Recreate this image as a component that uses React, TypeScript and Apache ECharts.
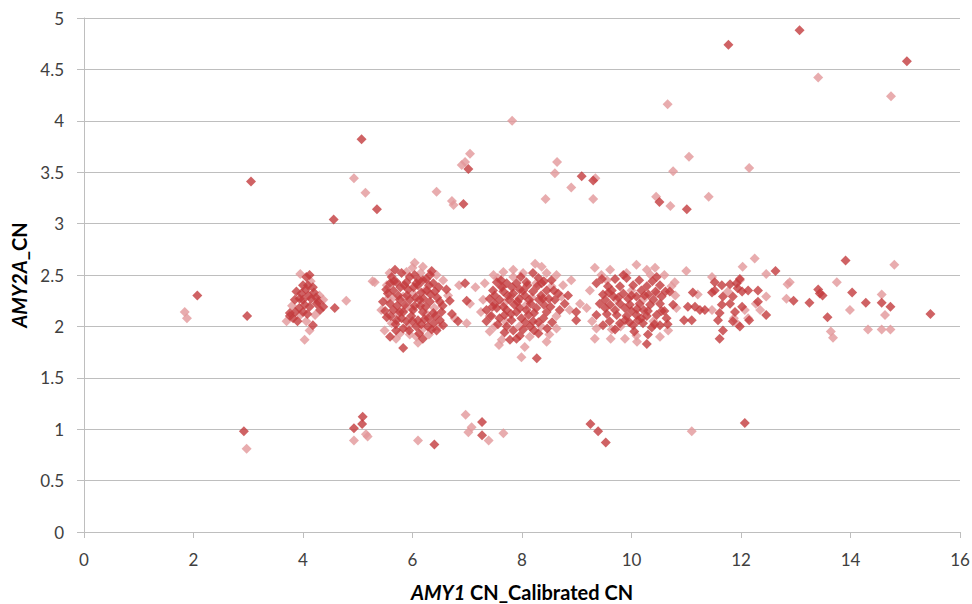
import React, { useEffect, useRef } from "react";
import * as echarts from "echarts";

// AMY1 calibrated copy number (x) against AMY2A copy number (y), two sample groups
const darkPoints: [number, number][] = [
  // high outliers
  [11.77, 4.74], [13.07, 4.88], [15.03, 4.58], [10.51, 3.21], [11.01, 3.14],
  [5.07, 3.82], [5.35, 3.14], [4.56, 3.04], [6.93, 3.19], [7.02, 3.53],
  [9.09, 3.46], [9.30, 3.42], [3.05, 3.41],
  // low-end values
  [2.07, 2.30], [2.98, 2.10], [2.92, 0.98],
  [4.93, 1.01], [5.08, 1.05], [5.09, 1.12], [6.40, 0.85], [7.27, 1.07],
  [7.27, 0.94], [9.25, 1.05], [9.39, 0.98], [9.53, 0.87], [12.07, 1.06],
  // group near 4
  [4.12, 2.50], [4.06, 2.48], [4.09, 2.40], [3.88, 2.34], [3.97, 2.32],
  [3.85, 2.26], [4.00, 2.26], [4.15, 2.27], [4.25, 2.22], [4.31, 2.16],
  [4.12, 2.19], [3.76, 2.13], [3.82, 2.08], [3.76, 2.10], [4.58, 2.18],
  [4.18, 2.01], [4.37, 2.19], [4.03, 2.21], [3.93, 2.18], [4.20, 2.33],
  [3.90, 2.05], [4.08, 2.12], [4.00, 2.40], [4.18, 2.38], [3.94, 2.27],
  [4.10, 2.30], [4.24, 2.28], [3.86, 2.14], [4.00, 2.14], [4.28, 2.24],
  [4.05, 2.36],
  // group near 6
  [5.68, 2.55], [5.80, 2.52], [6.35, 2.54], [6.32, 2.50], [6.04, 2.50],
  [5.59, 2.42], [5.65, 2.35], [5.55, 2.32], [5.71, 2.43], [5.89, 2.43],
  [6.07, 2.42], [6.19, 2.45], [6.38, 2.42], [6.41, 2.34], [6.26, 2.35],
  [6.62, 2.36], [6.68, 2.25], [6.99, 2.25], [6.96, 2.42], [5.46, 2.24],
  [5.59, 2.22], [5.77, 2.26], [5.95, 2.26], [6.13, 2.26], [6.32, 2.24],
  [5.65, 2.16], [5.83, 2.14], [6.01, 2.16], [6.19, 2.14], [6.38, 2.13],
  [6.53, 2.14], [5.53, 2.09], [5.71, 2.06], [5.89, 2.05], [6.10, 2.06],
  [6.29, 2.08], [6.50, 2.06], [5.83, 1.98], [6.07, 2.00], [6.38, 2.03],
  [6.44, 1.96], [6.56, 2.01], [5.59, 1.90], [6.19, 1.88], [5.83, 1.79],
  [6.83, 2.05], [5.62, 2.48], [5.92, 2.36], [6.16, 2.33], [5.74, 2.30],
  [6.04, 2.20], [6.24, 2.19], [5.86, 2.21], [6.45, 2.28], [5.50, 2.15],
  [6.10, 2.40], [5.98, 2.10], [6.28, 2.00], [5.70, 1.96], [6.12, 1.93],
  [6.55, 2.20], [6.72, 2.12], [5.78, 2.38], [6.20, 2.27],
  [5.66, 2.44], [5.95, 2.48], [6.25, 2.46], [5.72, 2.20], [5.90, 2.30],
  [6.06, 2.28], [6.33, 2.31], [5.60, 2.10], [5.80, 2.08], [6.00, 2.05],
  [6.22, 2.07], [6.42, 2.10], [5.69, 2.02], [5.94, 1.96], [6.16, 2.02],
  [6.35, 1.97], [5.85, 2.40], [6.12, 2.45], [6.48, 2.38], [5.52, 2.36],
  [6.02, 2.38], [6.30, 2.40], [5.77, 2.14], [6.14, 2.20], [6.50, 2.24],
  // group near 8
  [8.20, 2.52], [7.54, 2.43], [7.72, 2.42], [7.90, 2.42], [8.08, 2.43],
  [8.36, 2.42], [8.54, 2.45], [7.47, 2.35], [7.66, 2.34], [7.84, 2.32],
  [8.02, 2.35], [8.20, 2.34], [8.45, 2.35], [8.66, 2.32], [7.41, 2.27],
  [7.59, 2.26], [7.77, 2.26], [7.95, 2.27], [8.13, 2.26], [8.31, 2.26],
  [8.49, 2.27], [8.78, 2.22], [7.35, 2.16], [7.54, 2.18], [7.72, 2.16],
  [7.90, 2.14], [8.08, 2.16], [8.26, 2.18], [8.45, 2.14], [8.69, 2.16],
  [7.35, 2.05], [7.59, 2.08], [7.81, 2.06], [7.99, 2.08], [8.20, 2.05],
  [8.39, 2.08], [8.99, 2.14], [8.99, 2.06], [7.84, 1.96], [8.02, 1.97],
  [8.30, 1.93], [7.78, 1.87], [7.90, 1.88], [8.27, 1.69], [7.63, 2.38],
  [7.86, 2.21], [8.05, 2.30], [8.28, 2.39], [8.40, 2.21], [7.68, 2.11],
  [8.12, 2.11], [8.55, 2.04], [7.50, 2.22], [7.96, 2.36], [8.60, 2.26],
  [8.15, 2.00], [7.72, 2.00], [8.35, 2.30], [7.44, 2.10], [8.84, 2.30],
  [7.62, 2.45], [7.98, 2.48], [8.30, 2.47], [7.50, 2.30], [7.74, 2.30],
  [7.92, 2.24], [8.16, 2.22], [8.38, 2.27], [8.58, 2.35], [7.46, 2.19],
  [7.66, 2.19], [7.96, 2.18], [8.22, 2.13], [8.52, 2.19], [7.56, 2.02],
  [7.80, 2.12], [8.06, 2.04], [8.30, 2.04], [7.68, 1.94], [7.96, 1.91],
  [8.22, 1.96], [8.46, 1.98], [8.10, 2.40], [7.82, 2.38], [8.40, 2.44],
  // group near 10
  [9.85, 2.50], [9.91, 2.47], [10.46, 2.48], [9.36, 2.42], [9.57, 2.39],
  [9.79, 2.39], [10.03, 2.40], [10.28, 2.39], [10.52, 2.40], [9.48, 2.31],
  [9.67, 2.29], [9.85, 2.32], [10.09, 2.29], [10.31, 2.31], [10.55, 2.29],
  [10.70, 2.34], [9.42, 2.22], [9.61, 2.21], [9.79, 2.22], [9.97, 2.21],
  [10.15, 2.22], [10.34, 2.21], [10.52, 2.22], [10.76, 2.21], [9.36, 2.11],
  [9.55, 2.12], [9.73, 2.11], [9.91, 2.10], [10.09, 2.11], [10.28, 2.10],
  [10.46, 2.11], [10.64, 2.08], [9.48, 2.01], [9.79, 2.03], [10.03, 2.01],
  [10.21, 2.03], [10.37, 1.99], [10.52, 2.01], [10.28, 1.83], [9.64, 2.35],
  [9.94, 2.27], [10.18, 2.35], [10.40, 2.26], [9.70, 2.16], [10.00, 2.15],
  [10.22, 2.16], [9.52, 2.26], [10.60, 2.15], [9.88, 2.06], [10.12, 2.06],
  [9.46, 2.46], [9.70, 2.46], [10.14, 2.45], [10.38, 2.44], [9.58, 2.33],
  [9.76, 2.28], [10.00, 2.30], [10.24, 2.30], [10.44, 2.34], [10.62, 2.34],
  [9.52, 2.18], [9.88, 2.18], [10.10, 2.17], [10.30, 2.15], [10.55, 2.15],
  [9.60, 2.05], [9.96, 2.04], [10.18, 2.08], [10.42, 2.02], [10.66, 2.02],
  [9.70, 1.97], [10.05, 1.95], [10.30, 1.92],
  // group near 12
  [11.52, 2.43], [11.65, 2.40], [11.80, 2.41], [11.92, 2.42], [11.98, 2.46],
  [11.94, 2.37], [11.52, 2.35], [11.47, 2.33], [11.67, 2.29], [11.85, 2.29],
  [12.02, 2.34], [12.13, 2.35], [12.31, 2.35], [12.31, 2.24], [12.02, 2.19],
  [11.80, 2.22], [11.65, 2.21], [11.61, 2.13], [11.58, 2.06], [11.89, 2.14],
  [11.85, 2.05], [11.98, 2.00], [12.15, 2.06], [12.46, 2.11], [11.12, 2.33],
  [11.03, 2.19], [11.16, 2.19], [11.25, 2.16], [11.34, 2.16], [10.96, 2.06],
  [11.10, 2.06], [11.67, 1.96], [11.61, 1.88], [12.63, 2.54],
  // far right
  [13.91, 2.64], [13.41, 2.36], [13.44, 2.32], [13.49, 2.30], [14.03, 2.33],
  [12.96, 2.25], [13.25, 2.23], [14.57, 2.23], [14.28, 2.23], [14.73, 2.19],
  [13.58, 2.09], [15.46, 2.12],
];

const lightPoints: [number, number][] = [
  // high outliers
  [13.41, 4.42], [14.74, 4.24], [10.66, 4.16], [11.05, 3.65], [10.76, 3.51],
  [12.15, 3.54], [10.45, 3.26], [10.71, 3.17], [11.41, 3.26], [7.82, 4.00],
  [4.93, 3.44], [5.14, 3.30], [6.44, 3.31], [6.72, 3.22], [6.75, 3.18],
  [7.05, 3.68], [6.96, 3.60], [6.90, 3.57], [8.64, 3.60], [8.60, 3.49],
  [9.34, 3.44], [8.90, 3.35], [8.43, 3.24], [9.30, 3.24],
  // low-end values
  [1.84, 2.14], [1.88, 2.08], [2.97, 0.81], [4.93, 0.89], [5.18, 0.93],
  [5.15, 0.95], [6.10, 0.89], [6.97, 1.14], [7.08, 1.02], [7.02, 0.97],
  [7.39, 0.89], [7.66, 0.96], [11.10, 0.98],
  // group near 4
  [3.95, 2.51], [4.79, 2.25], [3.70, 2.05], [4.06, 2.05], [4.12, 1.96],
  [4.03, 1.87], [4.37, 2.26], [3.95, 2.11], [4.22, 2.11], [4.14, 2.44],
  [3.80, 2.20], [4.30, 2.30],
  // group near 6
  [5.31, 2.43], [6.04, 2.62], [5.89, 2.53], [6.19, 2.58], [6.44, 2.50],
  [5.49, 1.96], [5.92, 2.00], [5.95, 1.92], [6.07, 1.90], [5.77, 1.93],
  [5.83, 2.29], [6.01, 2.32], [6.23, 2.35], [6.77, 2.08], [6.99, 2.03],
  [5.43, 2.16], [5.53, 2.40], [5.27, 2.44], [6.56, 2.45], [5.62, 2.03],
  [6.30, 1.92], [6.10, 1.84], [5.74, 2.12], [6.65, 2.30], [5.97, 2.18],
  [6.40, 2.18], [5.55, 2.27], [6.85, 2.40], [6.15, 2.52],
  [5.65, 2.28], [6.26, 2.12], [5.88, 2.18], [6.48, 2.00], [5.70, 1.88],
  [6.18, 1.97], [5.58, 2.52], [6.00, 2.57],
  // group near 8
  [8.24, 2.61], [7.32, 2.42], [7.66, 2.53], [7.84, 2.55], [8.02, 2.52],
  [8.45, 2.52], [8.63, 2.50], [7.99, 1.70], [7.63, 1.87], [7.41, 1.95],
  [8.14, 1.90], [8.45, 1.85], [8.63, 1.98], [7.29, 2.26], [7.68, 2.23],
  [8.08, 2.21], [7.84, 2.48], [7.63, 2.39], [8.26, 2.42], [8.54, 2.39],
  [8.72, 2.29], [8.87, 2.16], [8.63, 2.10], [7.41, 2.10], [7.50, 2.00],
  [7.95, 2.00], [8.35, 2.00], [7.80, 2.30], [8.18, 2.28], [7.56, 2.47],
  [8.90, 2.45], [9.06, 2.22], [7.05, 2.22], [7.15, 2.38],
  [7.48, 2.50], [8.36, 2.58], [8.75, 2.40], [7.25, 2.14], [7.70, 2.05],
  [8.50, 1.92], [8.05, 1.80], [7.58, 1.82],
  // group near 10
  [9.33, 2.57], [9.61, 2.55], [10.09, 2.60], [10.28, 2.55], [10.43, 2.57],
  [9.91, 2.52], [10.79, 2.43], [9.18, 2.18], [9.24, 2.35], [9.36, 1.98],
  [9.33, 1.88], [9.64, 1.97], [9.88, 1.88], [10.09, 1.91], [10.67, 1.96],
  [10.82, 2.18], [9.73, 2.26], [10.21, 2.26], [10.00, 2.35], [10.46, 2.32],
  [10.73, 2.39], [9.55, 2.45], [10.60, 2.50], [9.80, 2.00], [10.40, 2.05],
  [9.45, 2.50], [10.35, 2.50], [10.80, 2.30], [9.28, 2.05], [9.62, 1.88],
  [10.52, 1.90], [10.10, 1.85],
  // group near 12
  [11.00, 2.54], [11.21, 2.31], [11.47, 2.48], [11.98, 2.45], [11.76, 2.34],
  [11.47, 2.16], [12.07, 2.16], [11.87, 2.08], [11.94, 2.02], [12.13, 2.08],
  [12.27, 2.22], [12.46, 2.29], [12.35, 2.16], [12.25, 2.66], [12.03, 2.58],
  [12.46, 2.51],
  // far right
  [14.80, 2.60], [12.89, 2.43], [12.85, 2.41], [13.75, 2.43], [12.83, 2.27],
  [14.57, 2.31], [14.63, 2.11], [13.99, 2.16], [14.32, 1.97], [14.57, 1.97],
  [14.73, 1.97], [13.64, 1.95], [13.68, 1.89],
];

const xTicks = [0, 2, 4, 6, 8, 10, 12, 14, 16];
const yTicks = [0, 0.5, 1, 1.5, 2, 2.5, 3, 3.5, 4, 4.5, 5];

const FONT = "Lato, 'Open Sans', sans-serif";
const GRID_GRAY = "#BEBEBE";
const LABEL_COLOR = "#404040";

export default function App() {
  const ref = useRef<HTMLDivElement>(null);

  useEffect(() => {
    if (!ref.current) return;
    const chart = echarts.init(ref.current, undefined, { renderer: "svg" });

    const axisLabel = { color: LABEL_COLOR, fontSize: 17, fontFamily: FONT };
    const titleRich = {
      i: { fontSize: 20, fontWeight: "bold", fontStyle: "italic", color: "#000", fontFamily: FONT },
      n: { fontSize: 20, fontWeight: "bold", color: "#000", fontFamily: FONT },
    };

    chart.setOption({
      animation: false,
      backgroundColor: "#ffffff",
      grid: { left: 84, right: 12, top: 18, bottom: 72, containLabel: false, outerBoundsMode: "none" },
      xAxis: {
        type: "value",
        min: xTicks[0],
        max: xTicks[xTicks.length - 1],
        interval: xTicks[1] - xTicks[0],
        name: "{i|AMY1}{n| CN_Calibrated CN}",
        nameLocation: "middle",
        nameGap: 50,
        nameTextStyle: { rich: titleRich },
        axisLine: { show: true, lineStyle: { color: GRID_GRAY, width: 1 } },
        axisTick: { show: true, inside: false, length: 6, lineStyle: { color: GRID_GRAY } },
        splitLine: { show: false },
        axisLabel: { ...axisLabel, margin: 19 },
      },
      yAxis: {
        type: "value",
        min: yTicks[0],
        max: yTicks[yTicks.length - 1],
        interval: yTicks[1] - yTicks[0],
        name: "{i|AMY2A}{n|_CN}",
        nameLocation: "middle",
        nameGap: 48,
        nameRotate: 90,
        nameTextStyle: { rich: titleRich },
        axisLine: { show: true, lineStyle: { color: GRID_GRAY, width: 1 } },
        axisTick: { show: true, inside: false, length: 7, lineStyle: { color: GRID_GRAY } },
        splitLine: { show: true, lineStyle: { color: GRID_GRAY, width: 1 } },
        axisLabel: { ...axisLabel, margin: 20 },
      },
      series: [
        {
          name: "light",
          type: "scatter",
          symbol: "diamond",
          symbolSize: 10,
          data: lightPoints,
          itemStyle: { color: "#E2979A" },
        },
        {
          name: "dark",
          type: "scatter",
          symbol: "diamond",
          symbolSize: 10,
          data: darkPoints,
          itemStyle: { color: "#C33B3D" },
        },
      ],
    });

    return () => chart.dispose();
  }, []);

  return (
    <div
      ref={ref}
      style={{ position: "fixed", left: 0, top: 0, width: 972, height: 604, background: "#fff" }}
    />
  );
}
